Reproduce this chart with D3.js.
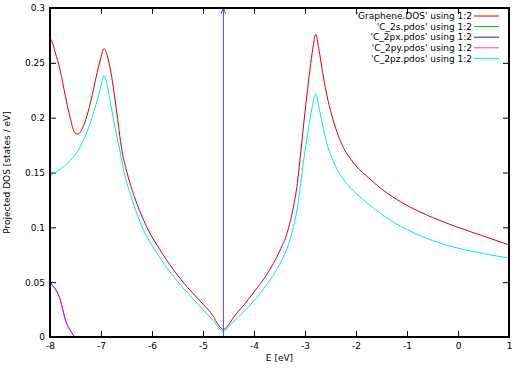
<!DOCTYPE html>
<html>
<head>
<meta charset="utf-8">
<script src="https://cdn.jsdelivr.net/npm/d3@7"></script>
<style>
  body { margin: 0; background: #fff; }
  text { font-family: "DejaVu Sans", sans-serif; font-size: 9px; fill: #000; }
</style>
</head>
<body>
<script>
// size of the window
var w = 517;
var h = 370;

// energies (eV) and values for each curve
var dosE = [-8.0, -7.95, -7.9, -7.8, -7.7, -7.6, -7.51, -7.45, -7.38, -7.3, -7.2, -7.1, -7.0, -6.94, -6.88, -6.8, -6.7, -6.59, -6.49, -6.3, -6.12, -5.85, -5.59, -5.3, -5.0, -4.8, -4.7, -4.6, -4.5, -4.4, -4.2, -4.0, -3.75, -3.49, -3.35, -3.23, -3.15, -3.08, -3.0, -2.9, -2.85, -2.79, -2.73, -2.65, -2.55, -2.45, -2.35, -2.25, -2.1, -2.0, -1.75, -1.5, -1.0, -0.5, 0.0, 0.5, 1.0];
var dosV = [0.273, 0.268, 0.260, 0.243, 0.220, 0.199, 0.186, 0.185, 0.189, 0.198, 0.215, 0.236, 0.255, 0.263, 0.257, 0.240, 0.208, 0.170, 0.150, 0.122, 0.102, 0.080, 0.062, 0.045, 0.030, 0.019, 0.011, 0.007, 0.011, 0.018, 0.029, 0.041, 0.057, 0.079, 0.095, 0.118, 0.140, 0.170, 0.205, 0.245, 0.262, 0.276, 0.263, 0.240, 0.216, 0.198, 0.184, 0.173, 0.162, 0.156, 0.145, 0.135, 0.120, 0.109, 0.100, 0.092, 0.084];

var pzE = [-8.0, -7.8, -7.6, -7.45, -7.35, -7.25, -7.15, -7.05, -6.98, -6.94, -6.9, -6.82, -6.72, -6.63, -6.55, -6.4, -6.2, -5.95, -5.69, -5.45, -5.2, -5.0, -4.8, -4.7, -4.6, -4.5, -4.4, -4.2, -4.0, -3.75, -3.5, -3.3, -3.15, -3.02, -2.95, -2.87, -2.79, -2.72, -2.64, -2.55, -2.45, -2.35, -2.2, -2.0, -1.75, -1.5, -1.0, -0.5, 0.0, 0.5, 1.0];
var pzV = [0.147, 0.153, 0.161, 0.170, 0.179, 0.190, 0.204, 0.220, 0.233, 0.239, 0.234, 0.215, 0.190, 0.170, 0.151, 0.127, 0.101, 0.080, 0.062, 0.048, 0.035, 0.025, 0.015, 0.009, 0.005, 0.009, 0.014, 0.023, 0.033, 0.048, 0.066, 0.088, 0.118, 0.163, 0.185, 0.207, 0.2216, 0.208, 0.190, 0.173, 0.161, 0.151, 0.141, 0.131, 0.121, 0.112, 0.098, 0.088, 0.081, 0.076, 0.072];

// C_2px and C_2py lie on top of each other
var pxyE = [-8.0, -7.95, -7.9, -7.85, -7.8, -7.75, -7.7, -7.65, -7.6, -7.55, -7.51];
var pxyV = [0.050, 0.047, 0.044, 0.040, 0.034, 0.025, 0.016, 0.010, 0.006, 0.002, 0.0];

var fermiE = -4.6;

var xTicks = [-8, -7, -6, -5, -4, -3, -2, -1, 0, 1];
var yTicks = [0, 0.05, 0.1, 0.15, 0.2, 0.25, 0.3];

var legendNames = ["'Graphene.DOS' using 1:2", "'C_2s.pdos' using 1:2", "'C_2px.pdos' using 1:2", "'C_2py.pdos' using 1:2", "'C_2pz.pdos' using 1:2"];
var legendColors = ["#e00000", "#00c000", "#2020a0", "#e040e0", "#00e8e8"];

// plot box
var plotL = 50, plotR = 509, plotT = 8, plotB = 337;

var x = d3.scaleLinear().domain([-8, 1]).range([plotL, plotR]);
var y = d3.scaleLinear().domain([0, 0.3]).range([plotB, plotT]);

var svg = d3.select("body")
  .append("svg")
  .attr("width", w)
  .attr("height", h);

function pairs(es, vs) {
  return es.map(function(e, i) { return [e, vs[i]]; });
}

var line = d3.line()
  .x(function(d) { return x(d[0]); })
  .y(function(d) { return y(d[1]); })
  .curve(d3.curveMonotoneX);

// axes, ticks pointing inward and mirrored on top / right
svg.append("g")
  .attr("transform", "translate(0," + plotB + ")")
  .call(d3.axisBottom(x).tickValues(xTicks).tickSizeInner(-6).tickSizeOuter(0).tickPadding(6)
    .tickFormat(function(d) { return String(d); }));
svg.append("g")
  .attr("transform", "translate(0," + plotT + ")")
  .call(d3.axisTop(x).tickValues(xTicks).tickSizeInner(-6).tickSizeOuter(0).tickFormat(""));
svg.append("g")
  .attr("transform", "translate(" + plotL + ",0)")
  .call(d3.axisLeft(y).tickValues(yTicks).tickSizeInner(-6).tickSizeOuter(0).tickPadding(5)
    .tickFormat(function(d) { return String(+d.toFixed(2)); }));
svg.append("g")
  .attr("transform", "translate(" + plotR + ",0)")
  .call(d3.axisRight(y).tickValues(yTicks).tickSizeInner(-6).tickSizeOuter(0).tickFormat(""));

svg.selectAll(".domain").remove();
svg.selectAll(".tick line").attr("stroke", "#000").attr("stroke-width", 1);
svg.selectAll(".tick text").style("font-size", "9px").attr("fill", "#000");

// curves
svg.append("path")
  .datum(pairs(pxyE, pxyV))
  .attr("d", line)
  .attr("fill", "none")
  .attr("stroke", "#2020ff")
  .attr("stroke-width", 1);
svg.append("path")
  .datum(pairs(pxyE, pxyV))
  .attr("d", line)
  .attr("fill", "none")
  .attr("stroke", "#ff00ff")
  .attr("stroke-opacity", 0.7)
  .attr("stroke-width", 1);
svg.append("path")
  .datum(pairs(dosE, dosV))
  .attr("d", line)
  .attr("fill", "none")
  .attr("stroke", legendColors[0])
  .attr("stroke-width", 1);
svg.append("path")
  .datum(pairs(pzE, pzV))
  .attr("d", line)
  .attr("fill", "none")
  .attr("stroke", legendColors[4])
  .attr("stroke-width", 1);

// fermi level arrow
var arrowColor = "#4848f0";
svg.append("line")
  .attr("x1", x(fermiE)).attr("x2", x(fermiE))
  .attr("y1", y(0)).attr("y2", y(0.3))
  .attr("stroke", arrowColor)
  .attr("stroke-width", 1);
svg.append("path")
  .attr("d", "M" + (x(fermiE) - 2.5) + "," + (y(0.3) + 6) + "L" + x(fermiE) + "," + y(0.3) + "L" + (x(fermiE) + 2.5) + "," + (y(0.3) + 6))
  .attr("fill", "none")
  .attr("stroke", arrowColor)
  .attr("stroke-width", 1);

// border
svg.append("rect")
  .attr("x", plotL).attr("y", plotT)
  .attr("width", plotR - plotL).attr("height", plotB - plotT)
  .attr("fill", "none")
  .attr("stroke", "#000")
  .attr("stroke-width", 2);

// legend
var legX = 472, legY = 16, legStep = 10.6;
legendNames.forEach(function(name, i) {
  svg.append("text")
    .attr("x", legX)
    .attr("y", legY + i * legStep)
    .attr("dy", "0.35em")
    .attr("text-anchor", "end")
    .text(name);
  svg.append("line")
    .attr("x1", 474).attr("x2", 499)
    .attr("y1", legY + i * legStep).attr("y2", legY + i * legStep)
    .attr("stroke", legendColors[i])
    .attr("stroke-width", 1);
});

// axis titles
svg.append("text")
  .attr("x", (plotL + plotR) / 2)
  .attr("y", 361)
  .attr("text-anchor", "middle")
  .text("E [eV]");
svg.append("text")
  .attr("transform", "translate(10," + ((plotT + plotB) / 2) + ") rotate(-90)")
  .attr("text-anchor", "middle")
  .text("Projected DOS [states / eV]");
</script>
</body>
</html>
